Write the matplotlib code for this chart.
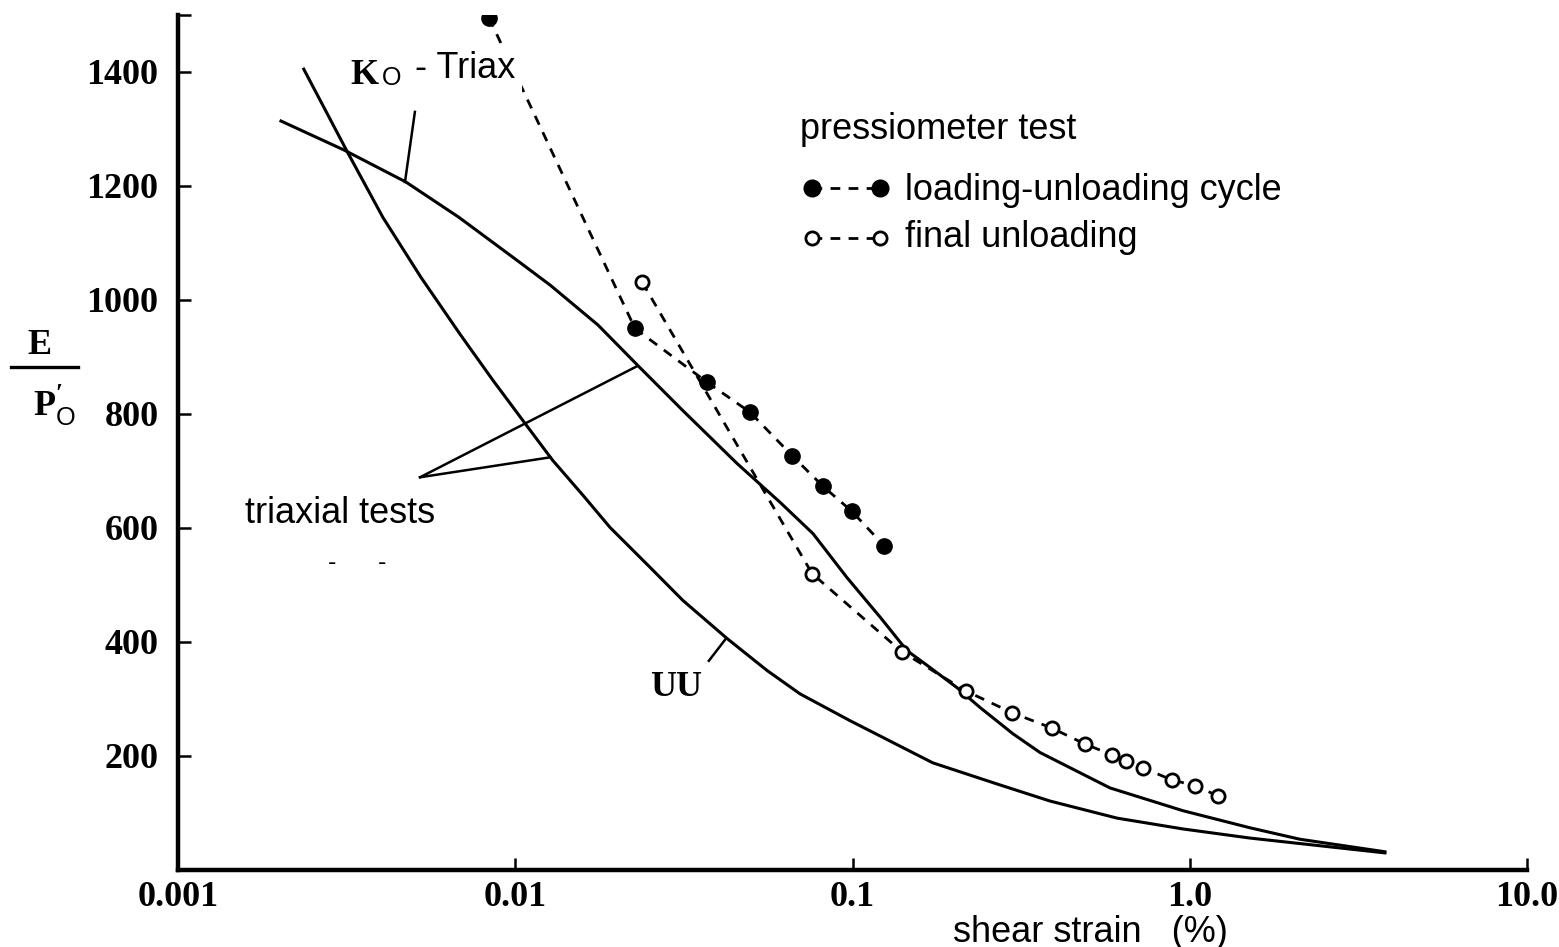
import matplotlib.pyplot as plt
from matplotlib.lines import Line2D

# K0-Triax curve (shear strain %, E/P'o)
k0_strain = [0.00202, 0.00311, 0.00474, 0.00681, 0.0101, 0.0127, 0.0176, 0.0231,
             0.0314, 0.0455, 0.0610, 0.0764, 0.0963, 0.121, 0.145, 0.170, 0.204,
             0.239, 0.299, 0.360, 0.580, 0.955, 1.51, 2.12, 3.79]
k0_ratio = [1314, 1263, 1207, 1145, 1070, 1026, 956, 885, 806, 713, 645, 590,
            513, 443, 385, 355, 320, 285, 239, 206, 144, 104, 74, 54, 32]

# UU triaxial curve
uu_strain = [0.00236, 0.00319, 0.00405, 0.00525, 0.00686, 0.00859, 0.0108,
             0.0129, 0.0159, 0.0191, 0.0251, 0.0314, 0.0425, 0.0558, 0.0699,
             0.0983, 0.173, 0.268, 0.385, 0.609, 0.955, 1.51, 3.79]
uu_ratio = [1405, 1258, 1145, 1040, 940, 859, 780, 719, 657, 601, 531, 473,
            406, 350, 309, 262, 188, 151, 121, 91, 72, 56, 30]

# pressiometer: loading-unloading cycle
cycle_strain = [0.00836, 0.02265, 0.0370, 0.0497, 0.0662, 0.0818, 0.0997, 0.124]
cycle_ratio = [1495, 950, 856, 803, 727, 673, 629, 569]

# pressiometer: final unloading
final_strain = [0.0238, 0.0759, 0.140, 0.217, 0.297, 0.390, 0.489, 0.588,
                0.647, 0.727, 0.886, 1.036, 1.212]
final_ratio = [1031, 520, 383, 314, 276, 249, 221, 202, 191, 179, 158, 148, 130]

x_ticks = [0.001, 0.01, 0.1, 1.0, 10.0]
x_labels = ["0.001", "0.01", "0.1", "1.0", "10.0"]
y_ticks = [200, 400, 600, 800, 1000, 1200, 1400, 1500]
y_labels = ["200", "400", "600", "800", "1000", "1200", "1400", ""]

SERIF = "Liberation Serif"
SANS = "Liberation Sans"
W, H = 1559, 947

plt.rcParams["mathtext.fontset"] = "custom"
plt.rcParams["mathtext.rm"] = SERIF
plt.rcParams["mathtext.bf"] = SERIF + ":bold"
plt.rcParams["mathtext.sf"] = SANS


def fx(px):
    return px / W


def fy(py):
    return 1 - py / H


fig = plt.figure(figsize=(15.59, 9.47), dpi=100)
ax = fig.add_axes([fx(178), 77 / H, 1349 / W, 855 / H])

ax.plot(k0_strain, k0_ratio, color="black", lw=2.2)
ax.plot(uu_strain, uu_ratio, color="black", lw=2.2)
ax.plot(cycle_strain, cycle_ratio, color="black", lw=2.0, dashes=(3.5, 3),
        marker="o", ms=11, mfc="black", mec="black")
ax.plot(final_strain, final_ratio, color="black", lw=2.0, dashes=(3.5, 3),
        marker="o", ms=9.5, mfc="white", mec="black", mew=2.0)

ax.set_xscale("log")
ax.set_xlim(0.001, 10)
ax.set_ylim(0, 1500)
ax.set_xticks(x_ticks)
ax.set_xticklabels(x_labels)
ax.set_yticks(y_ticks)
ax.set_yticklabels(y_labels)
ax.minorticks_off()

for side in ("top", "right"):
    ax.spines[side].set_visible(False)
for side in ("left", "bottom"):
    ax.spines[side].set_linewidth(3.2)

ax.tick_params(axis="both", direction="in", length=9, width=1.8)
ax.tick_params(axis="x", pad=8)
ax.tick_params(axis="y", pad=14)
for lab in ax.get_xticklabels() + ax.get_yticklabels():
    lab.set_fontfamily(SERIF)
    lab.set_fontweight("bold")
    lab.set_fontsize(26)

# leader lines for the curve labels
leader = dict(color="black", lw=1.8)
ax.plot([0.00504, 0.00471], [1330, 1207], **leader)
ax.plot([0.00522, 0.0230], [689, 884], **leader)
ax.plot([0.00522, 0.0127], [689, 724], **leader)
ax.plot([0.0375, 0.0419], [367, 404], **leader)

# curve labels
fig.text(fx(350), fy(84), "K", family=SERIF, weight="bold", fontsize=26)
fig.text(fx(382), fy(85), "O", family=SANS, fontsize=18)
fig.text(fx(415), fy(78), "- Triax", family=SANS, fontsize=26,
         bbox=dict(facecolor="white", edgecolor="none", pad=5))
fig.text(fx(245), fy(523), "triaxial tests", family=SANS, fontsize=26)
fig.text(fx(328), fy(570), "-", family=SANS, fontsize=18)
fig.text(fx(378), fy(570), "-", family=SANS, fontsize=18)
fig.text(fx(650), fy(696), "UU", family=SERIF, weight="bold", fontsize=26)

# pressiometer legend
fig.text(fx(800), fy(139), "pressiometer test", family=SANS, fontsize=26)
fig.text(fx(905), fy(200), "loading-unloading cycle", family=SANS, fontsize=26)
fig.text(fx(905), fy(247), "final unloading", family=SANS, fontsize=26)


def ax_frac(px, py):
    return (px - 178) / 1349, (870 - py) / 855


for py, face, size in ((188, "black", 11), (238, "white", 9.5)):
    x0, y0 = ax_frac(812, py)
    x1, _ = ax_frac(880, py)
    ax.add_line(Line2D([x0, x1], [y0, y0], transform=ax.transAxes,
                       color="black", lw=2.0, dashes=(3.5, 3), marker="o",
                       ms=size, mfc=face, mec="black", mew=2.0, clip_on=False))

# y-axis label as a fraction E / P'o
fig.text(fx(40), fy(354), "E", family=SERIF, weight="bold", fontsize=26,
         ha="center")
fig.add_artist(Line2D([fx(11), fx(78)], [fy(367), fy(367)], color="black",
                      lw=2.4))
fig.text(fx(33), fy(416), r"$\mathbf{P}^{\mathbf{\prime}}_{\mathsf{O}}$",
         fontsize=26)

# x-axis label
fig.text(fx(953), fy(942), "shear strain   (%)", family=SANS, fontsize=26)

fig.savefig("out.png", dpi=100, facecolor="white")
plt.close(fig)
